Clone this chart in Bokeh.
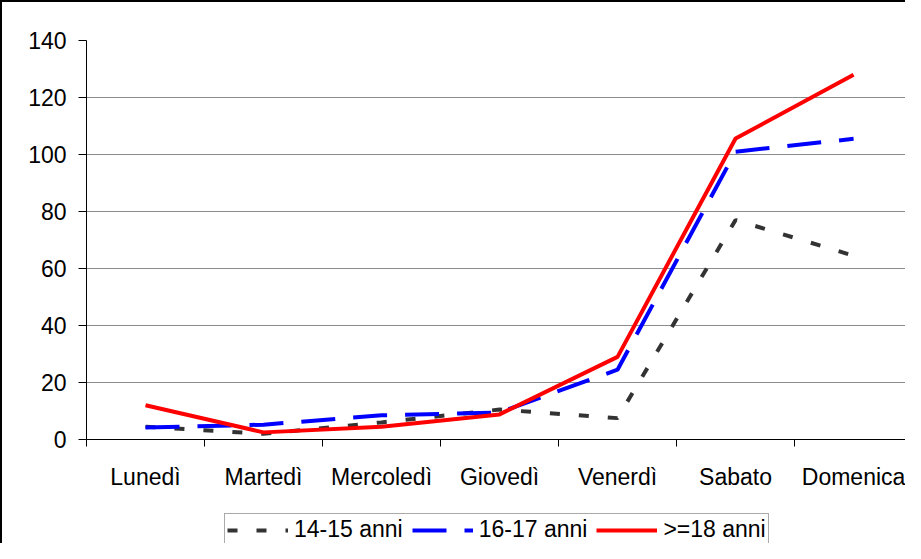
from bokeh.plotting import figure
from bokeh.layouts import column
from bokeh.models import FixedTicker, Legend, LegendItem, Range1d
from bokeh.embed import file_html
from bokeh.resources import INLINE

days = ["Lunedì", "Martedì", "Mercoledì", "Giovedì", "Venerdì", "Sabato", "Domenica"]
s14_15 = [4.5, 2, 6, 10.5, 7.5, 77, 64.5]
s16_17 = [4.2, 5.2, 8.5, 9.5, 24.5, 101, 105.5]
s18 = [12, 2.5, 4.5, 8.8, 29, 105.6, 128]
names = ["14-15 anni", "16-17 anni", ">=18 anni"]
yticks = [0, 20, 40, 60, 80, 100, 120, 140]

xpos = [i + 0.5 for i in range(len(days))]
font = "Liberation Sans"

styles = [
    dict(line_color="#333333", line_width=4, line_dash="10 19"),
    dict(line_color="#0000ff", line_width=4, line_dash="34 18"),
    dict(line_color="#ff0000", line_width=4),
]
series = [s14_15, s16_17, s18]

p = figure(width=903, height=508, output_backend="svg", toolbar_location=None,
           x_range=Range1d(0, 6.94), y_range=Range1d(0, 140),
           min_border_left=84, min_border_top=38, min_border_right=0, min_border_bottom=71)
p.outline_line_color = None
p.background_fill_color = "white"
p.border_fill_color = "white"

# x axis
p.xaxis.ticker = FixedTicker(ticks=xpos, minor_ticks=list(range(0, 8)))
p.xaxis.major_label_overrides = {x: d for x, d in zip(xpos, days)}
p.xaxis.major_tick_out = 0
p.xaxis.major_tick_in = 0
p.xaxis.minor_tick_out = 7
p.xaxis.minor_tick_in = 0
p.xaxis.minor_tick_line_color = "black"
p.xaxis.axis_line_color = "black"
p.xaxis.major_label_text_font = font
p.xaxis.major_label_text_font_size = "23px"
p.xaxis.major_label_text_color = "black"
p.xaxis.major_label_standoff = 17

# y axis
p.yaxis.ticker = FixedTicker(ticks=yticks, minor_ticks=[])
p.yaxis.major_tick_out = 8
p.yaxis.major_tick_in = 0
p.yaxis.major_tick_line_color = "black"
p.yaxis.axis_line_color = "black"
p.yaxis.major_label_text_font = font
p.yaxis.major_label_text_font_size = "23px"
p.yaxis.major_label_text_color = "black"
p.yaxis.major_label_standoff = 12

p.xgrid.grid_line_color = None
p.ygrid.ticker = FixedTicker(ticks=yticks)
p.ygrid.grid_line_color = "#8c8c8c"
p.ygrid.grid_line_width = 1

for s, st in zip(series, styles):
    p.line(xpos, s, **st)

# legend strip below the chart (lines kept out of view; only the legend shows)
p2 = figure(width=903, height=33, output_backend="svg", toolbar_location=None,
            x_range=Range1d(100, 101), y_range=Range1d(1000, 1001),
            x_axis_type=None, y_axis_type=None,
            min_border_left=0, min_border_top=0, min_border_right=0, min_border_bottom=0)
p2.outline_line_color = None
p2.grid.visible = False
p2.border_fill_color = "white"
items = []
for name, s, st in zip(names, series, styles):
    r = p2.line(xpos, s, **st)
    items.append(LegendItem(label=name, renderers=[r]))

legend = Legend(items=items, orientation="horizontal", location=(138, -3))
legend.glyph_width = 61
legend.glyph_height = 20
legend.label_standoff = 6
legend.spacing = 9
legend.padding = 2
legend.margin = 0
legend.label_text_font = font
legend.label_text_font_size = "23px"
legend.label_text_color = "black"
legend.border_line_color = "#555555"
legend.border_line_width = 1
legend.background_fill_color = "white"
legend.background_fill_alpha = 1
p2.add_layout(legend, "center")

layout = column(p, p2, spacing=0)
layout.styles = {"border-left": "2px solid black", "border-top": "2px solid black"}

open("out.html", "w").write(file_html(layout, INLINE))
